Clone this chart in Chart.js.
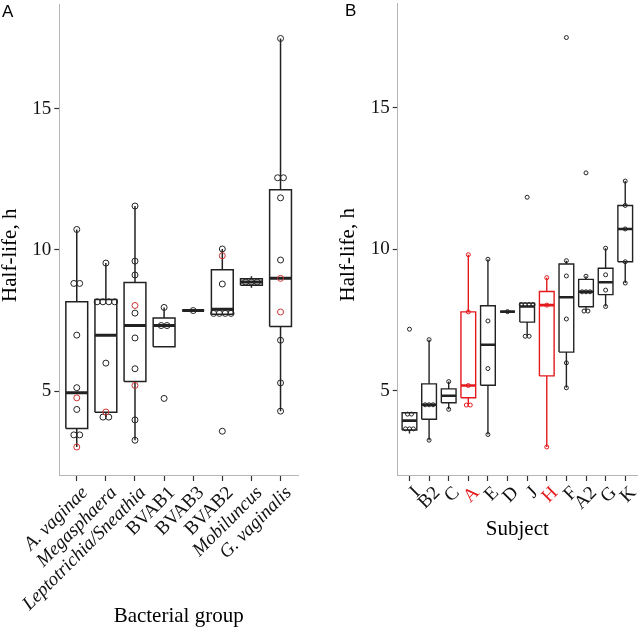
<!DOCTYPE html>
<html>
<head>
<meta charset="utf-8">
<script src="https://cdn.jsdelivr.net/npm/chart.js@4.4.1/dist/chart.umd.min.js"></script>
<style>
  body { margin: 0; background: #fff; }
  #wrap { position: relative; width: 640px; height: 630px; }
  canvas { position: absolute; top: 0; }
  #chartA { left: 0; }
  #chartB { left: 338px; }
  .tag { position: absolute; font-family: "Liberation Sans", Arial, sans-serif; font-size: 17px; line-height: 1; color: #000; z-index: 2; }
</style>
</head>
<body>
<div id="wrap">
  <canvas id="chartA" width="302" height="630"></canvas>
  <canvas id="chartB" width="302" height="630"></canvas>
  <div class="tag" style="left:2px; top:3px;">A</div>
  <div class="tag" style="left:345px; top:2px;">B</div>
</div>
<script>
// ---- panel A: by bacterial group ----
const groupsA = ['A. vaginae', 'Megasphaera', 'Leptotrichia/Sneathia', 'BVAB1', 'BVAB3', 'BVAB2', 'Mobiluncus', 'G. vaginalis'];
const italicA = [true, true, true, false, false, false, true, true];
// box stats: whisker ends, quartiles, median
const lowA  = [3.02, 4.08, 3.26, 6.57, 7.85, 7.72, 8.66, 4.29];
const q1A   = [3.68, 4.25, 5.34, 6.57, 7.85, 7.72, 8.75, 7.29];
const medA  = [4.94, 6.98, 7.32, 7.32, 7.85, 7.90, 8.86, 8.99];
const q3A   = [8.16, 8.24, 8.84, 7.59, 7.85, 9.29, 8.98, 12.13];
const highA = [10.72, 9.53, 11.55, 7.96, 7.85, 10.03, 9.06, 17.48];
const blackA = [
  [10.72, 8.81, 8.81, 6.98, 5.12, 4.35, 3.45, 3.45],
  [9.53, 8.16, 8.16, 8.16, 8.16, 5.99, 4.08, 4.08],
  [11.55, 9.60, 9.11, 7.76, 6.88, 5.79, 3.98, 3.26],
  [7.96, 7.32, 7.32, 4.74],
  [7.85],
  [10.03, 8.79, 7.75, 7.75, 7.75, 7.75, 3.58],
  [8.86, 8.86, 8.86],
  [17.48, 12.55, 12.55, 11.84, 9.64, 6.80, 5.29, 4.29]
];
const redA = [[4.76, 3.02], [4.26], [8.03, 5.20], [], [], [9.79], [], [8.99, 7.80]];

// ---- panel B: by subject ----
const subjects = ['I', 'B2', 'C', 'A', 'E', 'D', 'J', 'H', 'F', 'A2', 'G', 'K'];
const redSubjects = ['A', 'H'];
const lowB  = [3.50, 3.26, 4.35, 4.45, 3.46, 7.80, 6.93, 3.02, 5.11, 7.82, 7.98, 8.81];
const q1B   = [3.62, 4.00, 4.58, 4.76, 5.20, 7.80, 7.43, 5.53, 6.37, 7.97, 8.40, 9.56];
const medB  = [3.95, 4.51, 4.83, 5.19, 6.63, 7.80, 7.98, 8.03, 8.31, 8.50, 8.84, 10.72];
const q3B   = [4.23, 5.25, 5.07, 7.79, 8.01, 7.80, 8.10, 8.51, 9.48, 8.94, 9.33, 11.55];
const highB = [4.23, 6.81, 5.33, 9.81, 9.65, 7.80, 8.10, 9.00, 9.60, 9.05, 10.04, 12.41];
const pointsB = [
  [7.18, 4.18, 4.18, 3.66, 3.66, 3.66],
  [6.81, 4.51, 4.51, 4.51, 3.26],
  [5.33, 4.35],
  [9.81, 7.79, 5.19, 4.50, 4.50],
  [9.65, 7.47, 5.79, 3.46],
  [7.80],
  [11.84, 8.05, 8.05, 8.05, 8.05, 6.93, 6.93],
  [9.00, 8.03, 3.02],
  [17.48, 9.60, 9.06, 7.54, 5.99, 5.11],
  [12.70, 9.05, 8.50, 8.50, 8.50, 7.82, 7.82],
  [10.04, 9.10, 8.56, 7.98],
  [12.41, 11.55, 10.72, 9.56, 8.81]
];

const yTicks = [5, 10, 15];
const yMin = 2.03, yMax = 18.7;

const BLACK = '#222222';
const RED_A = '#cc3333';
const RED_B = '#e3191c';
const SERIF = '"Liberation Serif", "Times New Roman", serif';

// spread identical values sideways so the circles don't sit on top of each other
function dodge(vals, step) {
  const counts = {}, seen = {};
  vals.forEach(v => counts[v] = (counts[v] || 0) + 1);
  return vals.map(v => {
    seen[v] = (seen[v] || 0) + 1;
    return (seen[v] - 1 - (counts[v] - 1) / 2) * step;
  });
}

function pointSet(groups, color, radius, step) {
  const data = [];
  groups.forEach((vals, i) => {
    const off = dodge(vals, step);
    vals.forEach((v, k) => data.push({ x: i + 1 + off[k], y: v }));
  });
  return {
    data: data, showLine: false,
    pointRadius: radius, pointHoverRadius: radius, pointBorderWidth: 1,
    pointBorderColor: color, pointBackgroundColor: 'rgba(0,0,0,0)'
  };
}

function lineSet(data, color, width) {
  return {
    data: data, showLine: true, spanGaps: false, fill: false,
    borderColor: color, borderWidth: width, pointRadius: 0, pointHoverRadius: 0,
    borderCapStyle: 'butt', borderJoinStyle: 'miter'
  };
}

// median, box and whiskers for every group
function boxSets(stats, colorOf, half, lw, mw) {
  const medians = [], boxes = [], whiskers = [];
  stats.med.forEach((m, i) => {
    const x = i + 1, c = colorOf(i);
    medians.push(lineSet([{ x: x - half, y: m }, { x: x + half, y: m }], c, mw));
    boxes.push(lineSet([
      { x: x - half, y: stats.q1[i] }, { x: x + half, y: stats.q1[i] },
      { x: x + half, y: stats.q3[i] }, { x: x - half, y: stats.q3[i] },
      { x: x - half, y: stats.q1[i] }
    ], c, lw));
    whiskers.push(lineSet([
      { x: x, y: stats.q3[i] }, { x: x, y: stats.high[i] }, { x: x, y: null },
      { x: x, y: stats.q1[i] }, { x: x, y: stats.low[i] }
    ], c, lw));
  });
  // first dataset is drawn last, so medians end up above boxes
  return medians.concat(boxes, whiskers);
}

function makeScales(labels, fontFor, colorFor, xHeight, yWidth) {
  return {
    x: {
      type: 'linear', min: 0.4, max: labels.length + 0.6,
      afterBuildTicks: s => { s.ticks = labels.map((l, i) => ({ value: i + 1 })); },
      afterFit: s => { s.height = xHeight; s.paddingLeft = 0; s.paddingRight = 0; },
      ticks: {
        autoSkip: false, minRotation: 45, maxRotation: 45, padding: 1,
        showLabelBackdrop: true, backdropColor: 'rgba(0,0,0,0)', backdropPadding: 0,
        callback: v => labels[v - 1],
        font: fontFor, color: colorFor
      },
      grid: { drawOnChartArea: false, drawTicks: true, tickLength: 6, tickColor: '#333', tickWidth: 1.2 },
      border: { color: '#b5b5b5', width: 1 },
      title: { display: true, font: { family: SERIF, size: 21, lineHeight: 1 }, color: '#000' }
    },
    y: {
      min: yMin, max: yMax,
      afterBuildTicks: s => { s.ticks = yTicks.map(v => ({ value: v })); },
      afterFit: s => { s.width = yWidth; s.paddingTop = 0; s.paddingBottom = 0; },
      ticks: { padding: 3, color: '#111', font: { family: SERIF, size: 19 } },
      grid: { drawOnChartArea: false, drawTicks: true, tickLength: 5, tickColor: '#333', tickWidth: 1.2 },
      border: { color: '#b5b5b5', width: 1 },
      title: {
        display: true,
        // trailing spaces nudge the label down, as in the original figure
        text: 'Half-life, h      ',
        font: { family: SERIF, size: 21, lineHeight: 1 }, color: '#000', padding: { top: 0, bottom: 0 }
      }
    }
  };
}

const baseOptions = {
  responsive: false, animation: false,
  plugins: { legend: { display: false }, tooltip: { enabled: false } },
  events: []
};

// ---- chart A ----
const statsA = { low: lowA, q1: q1A, med: medA, q3: q3A, high: highA };
const scalesA = makeScales(groupsA,
  ctx => ({ family: SERIF, size: 19, style: italicA[ctx.index] ? 'italic' : 'normal' }),
  '#111', 155, 59.3);
scalesA.x.title.text = 'Bacterial group';
scalesA.x.title.padding = { top: 0, bottom: 3.5 };
scalesA.y.title.padding = { top: -0.5, bottom: 0 };

new Chart(document.getElementById('chartA'), {
  type: 'scatter',
  data: {
    datasets: [
      pointSet(redA, RED_A, 3, 0.2),
      pointSet(blackA, BLACK, 3, 0.2)
    ].concat(boxSets(statsA, () => BLACK, 0.375, 1.5, 3))
  },
  options: Object.assign({}, baseOptions, {
    layout: { padding: { top: 3, right: 1.7, bottom: 0, left: 0 } },
    scales: scalesA
  })
});

// ---- chart B ----
const statsB = { low: lowB, q1: q1B, med: medB, q3: q3B, high: highB };
const isRed = i => redSubjects.includes(subjects[i]);
const scalesB = makeScales(subjects,
  { family: SERIF, size: 19 },
  ctx => isRed(ctx.index) ? RED_B : '#111', 70, 59.7);
scalesB.x.title.text = 'Subject';
scalesB.x.title.padding = { top: 0, bottom: 5.5 };

new Chart(document.getElementById('chartB'), {
  type: 'scatter',
  data: {
    datasets: [
      pointSet(pointsB.map((p, i) => isRed(i) ? p : []), RED_B, 2, 0.2),
      pointSet(pointsB.map((p, i) => isRed(i) ? [] : p), BLACK, 2, 0.2)
    ].concat(boxSets(statsB, i => isRed(i) ? RED_B : BLACK, 0.375, 1.4, 2.6))
  },
  options: Object.assign({}, baseOptions, {
    layout: { padding: { top: 3, right: 1, bottom: 85, left: 0 } },
    scales: scalesB
  })
});
</script>
</body>
</html>
